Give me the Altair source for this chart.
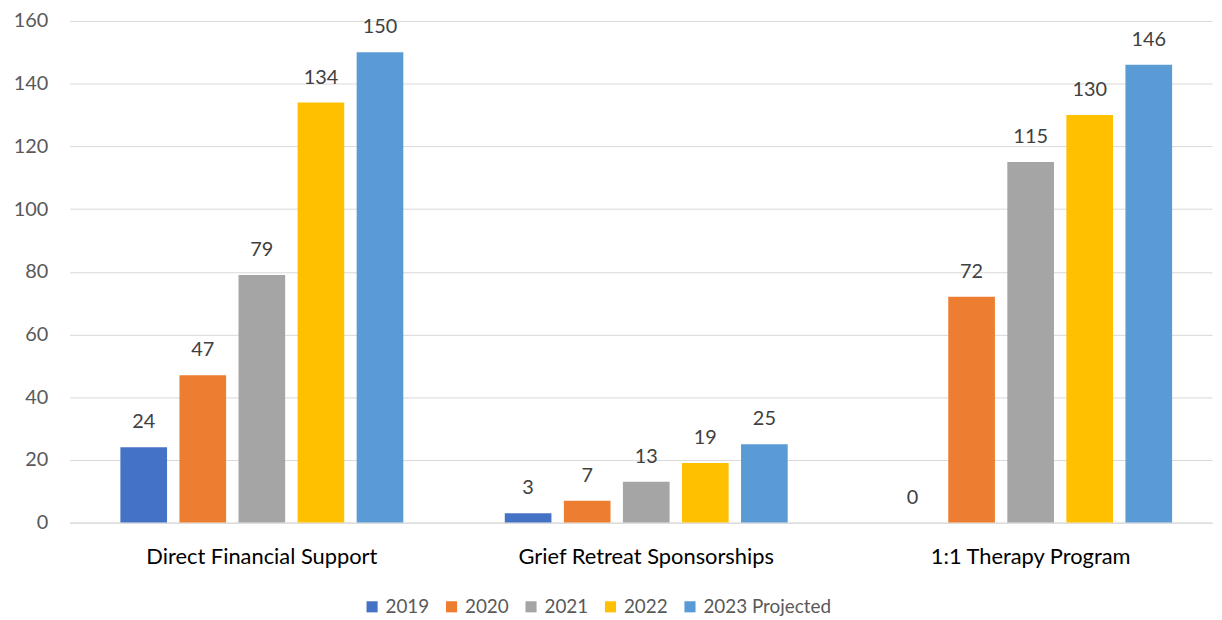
import altair as alt
import pandas as pd

categories = ["Direct Financial Support", "Grief Retreat Sponsorships", "1:1 Therapy Program"]
series = ["2019", "2020", "2021", "2022", "2023 Projected"]
colors = ["#4472C4", "#ED7D31", "#A5A5A5", "#FFC000", "#5B9BD5"]
v2019 = [24, 3, 0]
v2020 = [47, 7, 72]
v2021 = [79, 13, 115]
v2022 = [134, 19, 130]
v2023 = [150, 25, 146]

rows = []
for s, vals in zip(series, [v2019, v2020, v2021, v2022, v2023]):
    for c, v in zip(categories, vals):
        rows.append({"category": c, "series": s, "value": v})
df = pd.DataFrame(rows)

FONT = "Lato"

x = alt.X("category:N", sort=categories, title=None,
          scale=alt.Scale(paddingInner=0.264, paddingOuter=0.118, align=0.56),
          axis=alt.Axis(labelAngle=0, labelFontSize=22, labelColor="#000000",
                        labelPadding=24, ticks=False, domain=True, labelLimit=0,
                        domainColor="#D9D9D9", labelFont=FONT))
xo = alt.XOffset("series:N", sort=series, scale=alt.Scale(paddingInner=0.21, paddingOuter=0))
y = alt.Y("value:Q", title=None,
          scale=alt.Scale(domain=[0, 160], nice=False),
          axis=alt.Axis(values=list(range(0, 161, 20)), labelFontSize=20,
                        labelColor="#595959", labelPadding=22, ticks=False,
                        domain=False, gridColor="#D9D9D9", labelFont=FONT))

bars = alt.Chart(df).mark_bar().encode(
    x=x, xOffset=xo, y=y,
    color=alt.Color("series:N", sort=series,
                    scale=alt.Scale(domain=series, range=colors),
                    legend=alt.Legend(title=None, orient="none", direction="horizontal",
                                      legendX=295, legendY=580,
                                      symbolType="square", symbolSize=125,
                                      symbolStrokeWidth=0,
                                      labelFontSize=19, labelColor="#595959",
                                      labelFont=FONT, columnPadding=12,
                                      symbolOffset=0, labelOffset=4, labelLimit=0)),
)

labels = alt.Chart(df).mark_text(baseline="alphabetic", dy=-19, fontSize=20,
                                 color="#404040", font=FONT).encode(
    x=alt.X("category:N", sort=categories), xOffset=alt.XOffset("series:N", sort=series),
    y="value:Q", text="value:Q",
)

chart = (bars + labels).properties(
    width=1150, height=505,
    padding={"left": 62, "top": 11, "right": 2, "bottom": 96},
    autosize=alt.AutoSizeParams(type="none"),
).configure_view(stroke=None).configure_axis(gridWidth=1)

chart.save("out.html", embed_options={"renderer": "svg", "actions": False})
